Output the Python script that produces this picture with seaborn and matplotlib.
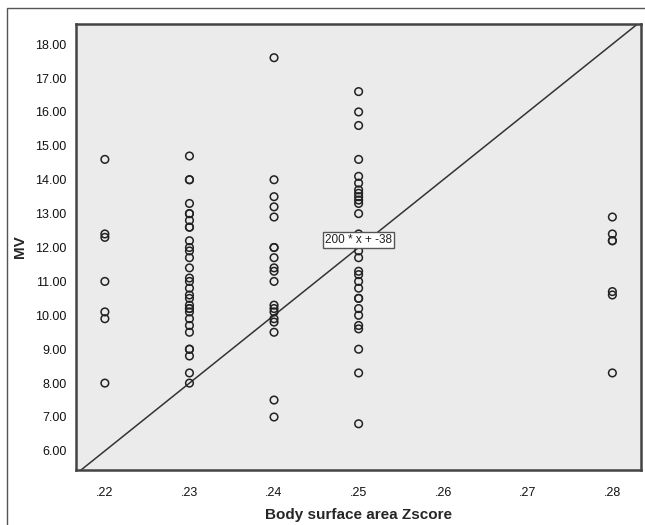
import numpy as np
import pandas as pd
import seaborn as sns
import matplotlib.pyplot as plt
from matplotlib.patches import Rectangle

# MV values
mv_022 = [14.6, 12.4, 12.3, 11.0, 10.1, 9.9, 8.0]
mv_023 = [14.7, 14.0, 14.0, 13.3, 13.0, 13.0, 12.8, 12.6, 12.6, 12.2, 12.0, 11.9,
          11.7, 11.4, 11.1, 11.0, 10.8, 10.6, 10.5, 10.3, 10.2, 10.2, 10.1, 9.9,
          9.7, 9.5, 9.0, 9.0, 8.8, 8.3, 8.0]
mv_024 = [17.6, 14.0, 13.5, 13.2, 12.9, 12.0, 12.0, 11.7, 11.4, 11.3, 11.0,
          10.3, 10.2, 10.1, 9.9, 9.8, 9.5, 7.5, 7.0]
mv_025 = [16.6, 16.0, 15.6, 14.6, 14.1, 13.9, 13.7, 13.6, 13.5, 13.4, 13.3,
          13.0, 12.4, 11.9, 11.7, 11.3, 11.2, 11.0, 10.8, 10.5, 10.5, 10.2,
          10.0, 9.7, 9.6, 9.0, 8.3, 6.8]
mv_028 = [12.9, 12.4, 12.2, 12.2, 10.7, 10.6, 8.3]
bsa_levels = [0.22, 0.23, 0.24, 0.25, 0.28]

# reference line: 200 * x + -38
slope = 200
intercept = -38

x_ticks = [0.22, 0.23, 0.24, 0.25, 0.26, 0.27, 0.28]
x_labels = [".22", ".23", ".24", ".25", ".26", ".27", ".28"]
y_ticks = [6, 7, 8, 9, 10, 11, 12, 13, 14, 15, 16, 17, 18]

rows = []
for lvl, vals in zip(bsa_levels, [mv_022, mv_023, mv_024, mv_025, mv_028]):
    for v in vals:
        rows.append({"bsa": lvl, "mv": v})
df = pd.DataFrame(rows)

sns.set_style("white")
plt.rcParams["font.family"] = ["Liberation Sans", "DejaVu Sans"]

fig = plt.figure(figsize=(6.45, 5.25), dpi=100)
ax = fig.add_axes([0.118, 0.105, 0.876, 0.849])
ax.set_facecolor("#ebebeb")

# outer chart border
fig.patches.append(Rectangle((0.011, -0.02), 1.05, 1.005, transform=fig.transFigure,
                             fill=False, edgecolor="#555555", lw=1))

xlim = (0.2166, 0.2834)
ylim = (5.44, 18.59)
xs = np.array(xlim)
ax.plot(xs, slope * xs + intercept, color="#333333", lw=1.1, zorder=2)

sns.scatterplot(data=df, x="bsa", y="mv", ax=ax, marker="o", s=30,
                facecolor="none", edgecolor="#222222", linewidth=1.1, zorder=3)

ax.text(0.25, 12.22, "200 * x + -38", ha="center", va="center", fontsize=8.5,
        color="#222222", zorder=4,
        bbox=dict(boxstyle="square,pad=0.15", facecolor="white", edgecolor="#555555", lw=1))

ax.set_xlim(*xlim)
ax.set_ylim(*ylim)
ax.set_xticks(x_ticks)
ax.set_xticklabels(x_labels)
ax.set_yticks(y_ticks)
ax.set_yticklabels([f"{t:.2f}" for t in y_ticks])
ax.tick_params(axis="both", direction="out", length=5, width=1.5, color="#333333",
               labelsize=9, labelcolor="#111111", pad=2)
ax.tick_params(axis="x", pad=7)
for sp in ax.spines.values():
    sp.set_color("#444444")
    sp.set_linewidth(1.8)

ax.set_xlabel("Body surface area Zscore", fontsize=11, fontweight="bold", labelpad=7)
ax.set_ylabel("MV", fontsize=11, fontweight="bold", labelpad=6)

fig.savefig("out.png", dpi=100)
